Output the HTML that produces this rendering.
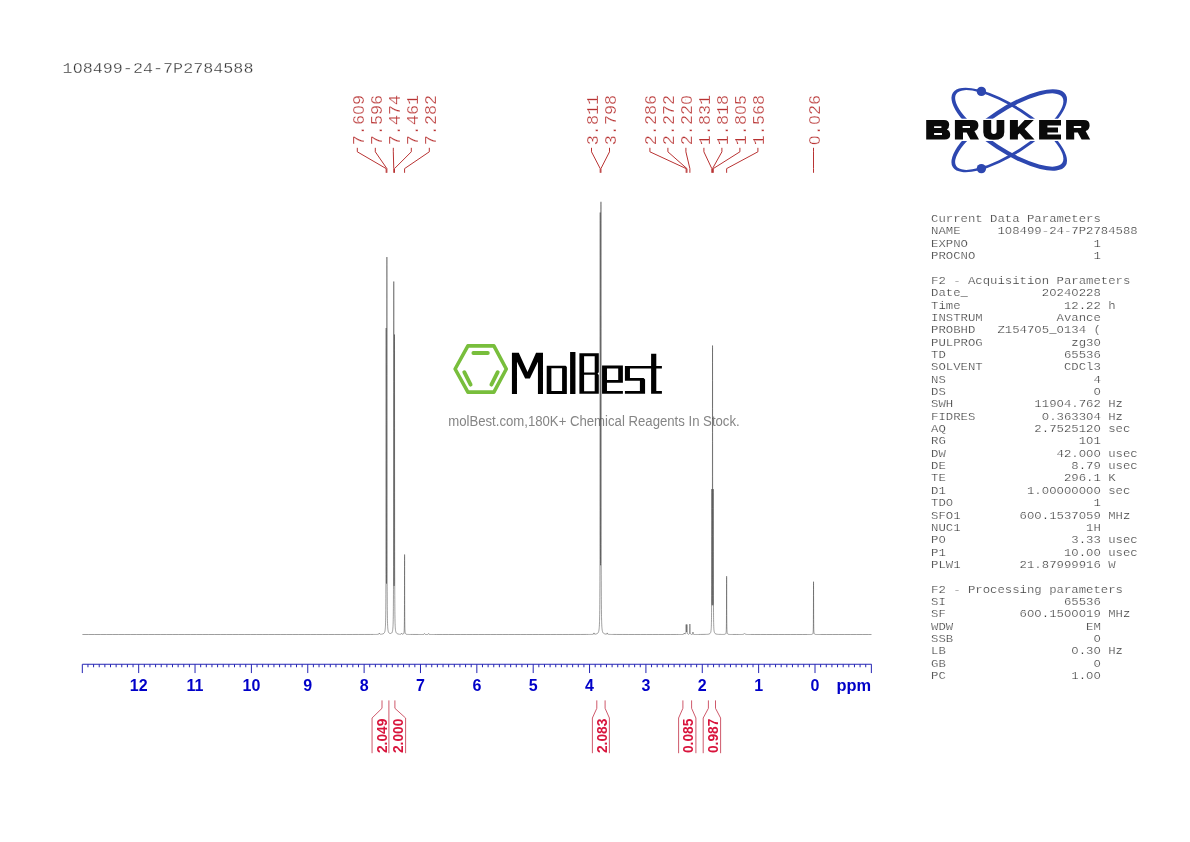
<!DOCTYPE html>
<html><head><meta charset="utf-8"><title>NMR</title>
<style>
html,body{margin:0;padding:0;background:#fff;}
body{width:1190px;height:842px;overflow:hidden;position:relative;font-family:"Liberation Sans",sans-serif;}
svg{position:absolute;left:0;top:0;will-change:transform;}
</style></head><body>
<svg width="1190" height="842" viewBox="0 0 1190 842">
<text transform="translate(62.6 72.6) scale(1 0.88)" font-family="Liberation Mono, monospace" font-size="16.75" fill="#333" stroke="#fff" stroke-width="0.32">108499-24-7P2784588</text>
<g font-family="Liberation Mono, monospace" font-size="12.32" fill="#3c3c3c" stroke="#fff" stroke-width="0.25" style="white-space:pre">
<text xml:space="preserve" transform="translate(931 222.10) scale(1 0.87)">Current Data Parameters</text>
<text xml:space="preserve" transform="translate(931 234.45) scale(1 0.87)">NAME     108499-24-7P2784588</text>
<text xml:space="preserve" transform="translate(931 246.80) scale(1 0.87)">EXPNO                 1</text>
<text xml:space="preserve" transform="translate(931 259.15) scale(1 0.87)">PROCNO                1</text>
<text xml:space="preserve" transform="translate(931 283.85) scale(1 0.87)">F2 - Acquisition Parameters</text>
<text xml:space="preserve" transform="translate(931 296.20) scale(1 0.87)">Date_          20240228</text>
<text xml:space="preserve" transform="translate(931 308.55) scale(1 0.87)">Time              12.22 h</text>
<text xml:space="preserve" transform="translate(931 320.90) scale(1 0.87)">INSTRUM          Avance</text>
<text xml:space="preserve" transform="translate(931 333.25) scale(1 0.87)">PROBHD   Z154705_0134 (</text>
<text xml:space="preserve" transform="translate(931 345.60) scale(1 0.87)">PULPROG            zg30</text>
<text xml:space="preserve" transform="translate(931 357.95) scale(1 0.87)">TD                65536</text>
<text xml:space="preserve" transform="translate(931 370.30) scale(1 0.87)">SOLVENT           CDCl3</text>
<text xml:space="preserve" transform="translate(931 382.65) scale(1 0.87)">NS                    4</text>
<text xml:space="preserve" transform="translate(931 395.00) scale(1 0.87)">DS                    0</text>
<text xml:space="preserve" transform="translate(931 407.35) scale(1 0.87)">SWH           11904.762 Hz</text>
<text xml:space="preserve" transform="translate(931 419.70) scale(1 0.87)">FIDRES         0.363304 Hz</text>
<text xml:space="preserve" transform="translate(931 432.05) scale(1 0.87)">AQ            2.7525120 sec</text>
<text xml:space="preserve" transform="translate(931 444.40) scale(1 0.87)">RG                  101</text>
<text xml:space="preserve" transform="translate(931 456.75) scale(1 0.87)">DW               42.000 usec</text>
<text xml:space="preserve" transform="translate(931 469.10) scale(1 0.87)">DE                 8.79 usec</text>
<text xml:space="preserve" transform="translate(931 481.45) scale(1 0.87)">TE                296.1 K</text>
<text xml:space="preserve" transform="translate(931 493.80) scale(1 0.87)">D1           1.00000000 sec</text>
<text xml:space="preserve" transform="translate(931 506.15) scale(1 0.87)">TD0                   1</text>
<text xml:space="preserve" transform="translate(931 518.50) scale(1 0.87)">SFO1        600.1537059 MHz</text>
<text xml:space="preserve" transform="translate(931 530.85) scale(1 0.87)">NUC1                 1H</text>
<text xml:space="preserve" transform="translate(931 543.20) scale(1 0.87)">P0                 3.33 usec</text>
<text xml:space="preserve" transform="translate(931 555.55) scale(1 0.87)">P1                10.00 usec</text>
<text xml:space="preserve" transform="translate(931 567.90) scale(1 0.87)">PLW1        21.87999916 W</text>
<text xml:space="preserve" transform="translate(931 592.60) scale(1 0.87)">F2 - Processing parameters</text>
<text xml:space="preserve" transform="translate(931 604.95) scale(1 0.87)">SI                65536</text>
<text xml:space="preserve" transform="translate(931 617.30) scale(1 0.87)">SF          600.1500019 MHz</text>
<text xml:space="preserve" transform="translate(931 629.65) scale(1 0.87)">WDW                  EM</text>
<text xml:space="preserve" transform="translate(931 642.00) scale(1 0.87)">SSB                   0</text>
<text xml:space="preserve" transform="translate(931 654.35) scale(1 0.87)">LB                 0.30 Hz</text>
<text xml:space="preserve" transform="translate(931 666.70) scale(1 0.87)">GB                    0</text>
<text xml:space="preserve" transform="translate(931 679.05) scale(1 0.87)">PC                 1.00</text>
</g>
<g fill="none" stroke="#78be3c" stroke-width="3.6" stroke-linejoin="round" stroke-linecap="round"><polygon points="455.1,369 467.9,345.9 493.9,345.9 506.3,369 493.9,392.1 467.9,392.1"/><path stroke-width="3.9" d="M473.4 353H487.8M464.3 372.2L470.6 384.6M497.7 372.2L491.4 384.6"/></g>
<path fill="#000" fill-rule="evenodd" d="M511.92 393.94V352.73H518.78L527.52 371.89L536.06 352.73H542.98V393.94H537.94V361.81L529.87 378.61H525.17L516.97 361.81V393.94zM546.7 365.84H565.6L566.85 367.1V393.94H546.7zM551.4 368.3V391.05H562.1V368.3zM570.10 352.10H575.45V393.94H570.10zM579.4 353.2H598.8V372.2L597.6 373.6L598.8 375V393.8H579.4zM584.1 356.2V372.4H594.7V356.2zM584.1 374.8V391.2H594.7V374.8zM602.06 365.5H622.9V382.65H606.97V391.05H622.9V393.74H602.06zM606.97 368.4V379.96H618.2V368.4zM624.9 365.97H651.1V368.5H629.96V377.94H643.6L645.08 379.5V393.74H624.9V391.05H639.9V380.63H624.9zM651.1 353.74H656.3V365.97H661.9V368.5H656.3V391.05H661.9V393.74H651.1z"/>
<text x="448.2" y="426.2" font-family="Liberation Sans, sans-serif" font-size="14" fill="#858585" textLength="291.5" lengthAdjust="spacingAndGlyphs">molBest.com,180K+ Chemical Reagents In Stock.</text>
<polyline fill="none" stroke="#3c3c3c" stroke-width="0.5" stroke-linejoin="bevel" points="82.40,634.50 88.40,634.50 94.40,634.50 100.40,634.50 106.40,634.50 112.40,634.50 118.40,634.50 124.40,634.50 130.40,634.50 136.40,634.50 142.40,634.50 148.40,634.50 154.40,634.50 160.40,634.50 166.40,634.50 172.40,634.50 178.40,634.50 184.40,634.50 190.40,634.50 196.40,634.50 202.40,634.50 208.40,634.50 214.40,634.50 220.40,634.50 226.40,634.50 232.40,634.50 238.40,634.50 244.40,634.50 250.40,634.50 256.40,634.50 262.40,634.50 268.40,634.50 274.40,634.50 280.40,634.50 286.40,634.50 292.40,634.50 298.40,634.50 304.40,634.50 310.40,634.50 316.40,634.50 322.40,634.50 328.40,634.50 334.40,634.49 340.40,634.49 346.40,634.49 352.40,634.49 358.40,634.48 364.40,634.48 370.40,634.46 373.34,634.44 373.56,634.43 373.77,634.43 373.98,634.43 374.18,634.43 374.38,634.43 374.58,634.42 374.77,634.42 374.96,634.42 375.14,634.41 375.32,634.41 375.49,634.41 375.67,634.41 375.83,634.40 375.99,634.40 376.15,634.39 376.31,634.39 376.40,634.39 376.45,634.39 376.60,634.38 376.74,634.38 376.88,634.37 377.01,634.37 377.14,634.36 377.27,634.36 377.39,634.35 377.50,634.34 377.62,634.34 377.73,634.33 377.83,634.32 377.93,634.31 378.03,634.29 378.12,634.28 378.21,634.26 378.30,634.25 378.38,634.23 378.46,634.20 378.54,634.17 378.61,634.14 378.68,634.10 378.74,634.06 378.80,634.01 378.86,633.95 378.91,633.89 378.96,633.81 379.01,633.74 379.05,633.66 379.09,633.58 379.13,633.50 379.16,633.43 379.19,633.37 379.22,633.32 379.25,633.28 379.27,633.25 379.28,633.23 379.30,633.21 379.31,633.21 379.32,633.20 379.33,633.20 379.33,633.20 379.34,633.20 379.34,633.20 379.34,633.20 379.34,633.20 379.35,633.20 379.35,633.20 379.36,633.20 379.38,633.21 379.39,633.22 379.41,633.24 379.43,633.27 379.45,633.31 379.48,633.36 379.51,633.41 379.55,633.48 379.58,633.56 379.62,633.63 379.67,633.71 379.71,633.78 379.76,633.85 379.81,633.91 379.87,633.96 379.93,634.01 380.00,634.04 380.06,634.07 380.14,634.10 380.16,634.11 380.21,634.12 380.29,634.14 380.37,634.15 380.38,634.15 380.46,634.16 380.55,634.17 380.59,634.17 380.64,634.17 380.74,634.17 380.80,634.17 380.84,634.17 380.89,634.17 380.95,634.17 381.00,634.17 381.06,634.17 381.11,634.16 381.17,634.16 381.20,634.16 381.29,634.15 381.32,634.15 381.40,634.14 381.41,634.14 381.53,634.13 381.53,634.13 381.59,634.12 381.66,634.11 381.73,634.11 381.78,634.10 381.80,634.10 381.93,634.08 381.94,634.08 381.96,634.08 382.07,634.06 382.13,634.05 382.14,634.05 382.22,634.03 382.31,634.01 382.32,634.01 382.37,634.00 382.40,634.00 382.48,633.98 382.51,633.97 382.52,633.97 382.65,633.94 382.68,633.93 382.69,633.92 382.81,633.89 382.84,633.88 382.87,633.87 382.97,633.84 383.01,633.83 383.05,633.81 383.12,633.78 383.18,633.76 383.22,633.74 383.27,633.72 383.36,633.68 383.38,633.67 383.42,633.65 383.53,633.59 383.55,633.58 383.56,633.57 383.70,633.48 383.70,633.48 383.72,633.47 383.83,633.38 383.86,633.36 383.90,633.32 383.96,633.26 384.01,633.22 384.08,633.14 384.10,633.12 384.15,633.06 384.21,632.99 384.29,632.87 384.29,632.87 384.32,632.82 384.43,632.64 384.44,632.63 384.49,632.52 384.55,632.41 384.56,632.37 384.65,632.15 384.69,632.04 384.70,632.02 384.75,631.85 384.82,631.63 384.85,631.51 384.91,631.28 384.94,631.13 384.94,631.10 385.04,630.62 385.06,630.50 385.12,630.08 385.12,630.06 385.17,629.68 385.20,629.38 385.28,628.61 385.28,628.58 385.34,627.89 385.36,627.59 385.38,627.18 385.43,626.39 385.49,625.18 385.50,624.91 385.56,623.09 385.58,622.29 385.62,620.77 385.68,617.97 385.68,617.85 385.73,614.15 385.77,610.84 385.78,609.33 385.83,602.96 385.85,598.52 385.87,594.47 385.91,583.36 385.94,574.79 385.95,569.00 385.98,549.52 386.01,525.15 386.01,523.22 386.04,495.15 386.06,460.59 386.08,424.42 386.09,415.23 386.10,389.21 386.12,362.93 386.13,345.46 386.14,334.89 386.15,329.78 386.15,328.46 386.16,328.03 386.16,328.00 386.16,328.22 386.16,328.64 386.17,329.66 386.17,333.85 386.18,343.80 386.19,362.18 386.21,387.94 386.23,420.57 386.23,422.35 386.25,455.95 386.27,489.60 386.29,512.81 386.30,518.48 386.33,542.07 386.35,554.62 386.36,559.06 386.40,571.35 386.41,573.76 386.44,579.18 386.46,581.88 386.48,583.13 386.51,583.65 386.53,583.21 386.56,580.94 386.58,578.55 386.61,574.29 386.63,566.58 386.64,563.31 386.68,547.14 386.69,541.42 386.71,525.39 386.75,495.61 386.75,487.25 386.77,459.39 386.80,417.33 386.82,375.39 386.82,373.17 386.84,332.44 386.85,298.24 386.86,277.16 386.87,264.60 386.88,259.25 386.88,257.59 386.89,257.34 386.89,257.00 386.89,257.02 386.89,257.48 386.90,259.59 386.90,265.22 386.92,278.16 386.93,299.69 386.94,334.45 386.96,364.39 386.96,375.78 386.98,420.63 387.01,463.50 387.03,498.31 387.03,500.70 387.06,530.90 387.10,555.00 387.11,562.16 387.13,573.14 387.17,586.69 387.19,591.39 387.22,596.84 387.26,604.62 387.28,606.60 387.31,610.50 387.37,614.98 387.37,615.12 387.43,618.55 387.46,620.37 387.49,621.28 387.55,623.46 387.56,623.78 387.62,625.21 387.66,626.14 387.69,626.63 387.76,627.77 387.76,627.78 387.77,627.81 387.84,628.71 387.88,629.05 387.93,629.48 387.98,629.93 387.99,629.98 388.01,630.12 388.10,630.66 388.11,630.69 388.19,631.11 388.20,631.12 388.23,631.25 388.29,631.50 388.35,631.70 388.39,631.82 388.40,631.84 388.41,631.85 388.48,632.05 388.50,632.09 388.50,632.10 388.61,632.33 388.61,632.33 388.62,632.35 388.72,632.52 388.72,632.53 388.75,632.58 388.81,632.67 388.84,632.71 388.89,632.78 388.93,632.82 388.96,632.85 389.01,632.90 389.04,632.94 389.09,632.98 389.14,633.03 389.19,633.07 389.20,633.07 389.21,633.09 389.34,633.17 389.35,633.18 389.39,633.20 389.49,633.25 389.50,633.26 389.54,633.28 389.57,633.29 389.63,633.32 389.66,633.33 389.74,633.36 389.75,633.36 389.77,633.37 389.83,633.38 389.92,633.40 389.92,633.41 389.93,633.41 390.00,633.42 390.08,633.43 390.09,633.43 390.12,633.44 390.17,633.44 390.23,633.45 390.26,633.45 390.30,633.45 390.35,633.45 390.40,633.45 390.42,633.45 390.48,633.45 390.54,633.44 390.56,633.44 390.58,633.44 390.65,633.43 390.72,633.42 390.73,633.42 390.73,633.42 390.83,633.40 390.88,633.38 390.91,633.38 390.92,633.37 390.99,633.35 391.03,633.34 391.09,633.32 391.11,633.31 391.15,633.29 391.17,633.28 391.27,633.23 391.31,633.21 391.31,633.21 391.44,633.13 391.46,633.12 391.46,633.11 391.52,633.07 391.57,633.03 391.62,632.99 391.65,632.96 391.69,632.91 391.73,632.88 391.76,632.84 391.81,632.77 391.84,632.73 391.90,632.65 391.93,632.61 391.94,632.60 392.04,632.43 392.04,632.42 392.05,632.42 392.15,632.20 392.16,632.19 392.17,632.16 392.25,631.97 392.26,631.94 392.30,631.82 392.36,631.63 392.43,631.40 392.46,631.28 392.46,631.27 392.55,630.88 392.55,630.85 392.64,630.35 392.67,630.20 392.67,630.16 392.73,629.74 392.78,629.33 392.81,629.01 392.89,628.17 392.89,628.15 392.89,628.13 392.97,627.06 392.99,626.60 393.04,625.73 393.10,624.38 393.11,624.11 393.17,622.04 393.19,621.18 393.23,619.48 393.29,616.26 393.29,616.19 393.34,611.92 393.38,608.27 393.39,606.42 393.44,599.12 393.46,594.24 393.48,589.62 393.52,576.92 393.55,566.63 393.56,559.92 393.59,538.13 393.62,509.06 393.62,506.81 393.65,474.21 393.67,434.07 393.69,392.10 393.70,381.45 393.71,353.47 393.73,321.03 393.74,301.00 393.75,289.00 393.76,283.81 393.76,281.91 393.76,281.51 393.77,281.50 393.77,281.86 393.77,282.10 393.77,283.70 393.78,288.78 393.79,300.60 393.80,320.37 393.82,352.36 393.84,390.40 393.84,392.47 393.86,431.59 393.88,470.78 393.90,496.72 393.91,504.50 393.94,531.48 393.96,547.12 393.97,552.44 394.01,567.43 394.02,570.46 394.05,577.55 394.07,581.45 394.09,583.60 394.12,585.58 394.14,585.90 394.17,585.26 394.19,583.88 394.21,581.13 394.24,575.92 394.25,573.30 394.29,561.13 394.30,556.75 394.32,544.37 394.35,522.04 394.36,515.57 394.38,492.74 394.40,468.65 394.41,459.67 394.43,428.42 394.43,424.93 394.44,392.94 394.46,367.71 394.47,349.77 394.48,340.10 394.49,336.05 394.49,335.08 394.50,334.69 394.50,334.51 394.50,334.50 394.50,334.54 394.50,334.79 394.51,336.32 394.51,341.40 394.52,350.61 394.54,369.02 394.55,394.80 394.56,420.28 394.57,427.49 394.59,463.09 394.62,498.45 394.64,525.88 394.64,527.76 394.67,551.57 394.70,570.14 394.72,576.27 394.74,584.64 394.78,595.49 394.80,599.44 394.83,603.78 394.87,609.88 394.89,611.47 394.92,614.62 394.98,618.31 394.98,618.37 395.03,621.16 395.07,622.64 395.09,623.42 395.16,625.20 395.17,625.46 395.23,626.64 395.27,627.39 395.30,627.80 395.37,628.75 395.38,628.80 395.45,629.54 395.49,629.83 395.53,630.20 395.60,630.62 395.60,630.62 395.62,630.75 395.71,631.21 395.72,631.24 395.80,631.60 395.82,631.65 395.84,631.72 395.90,631.94 395.96,632.11 396.00,632.22 396.03,632.29 396.09,632.43 396.11,632.47 396.22,632.68 396.22,632.70 396.24,632.72 396.33,632.87 396.36,632.92 396.44,633.03 396.45,633.03 396.50,633.10 396.57,633.17 396.64,633.25 396.65,633.26 396.69,633.30 396.80,633.39 396.82,633.41 396.84,633.42 396.95,633.50 396.96,633.51 397.03,633.56 397.09,633.59 397.11,633.60 397.22,633.66 397.24,633.67 397.27,633.69 397.38,633.74 397.40,633.75 397.44,633.76 397.53,633.80 397.58,633.82 397.61,633.83 397.68,633.85 397.76,633.88 397.78,633.88 397.84,633.90 397.93,633.93 397.96,633.93 398.00,633.95 398.09,633.97 398.14,633.98 398.17,633.98 398.25,634.00 398.33,634.02 398.34,634.02 398.41,634.03 398.52,634.05 398.52,634.05 398.57,634.06 398.59,634.06 398.69,634.08 398.72,634.08 398.72,634.08 398.80,634.09 398.86,634.10 398.88,634.10 398.92,634.11 399.00,634.12 399.02,634.12 399.06,634.13 399.12,634.13 399.14,634.13 399.23,634.14 399.26,634.15 399.27,634.15 399.33,634.15 399.40,634.16 399.43,634.16 399.45,634.16 399.53,634.17 399.55,634.17 399.63,634.17 399.65,634.17 399.65,634.18 399.76,634.18 399.77,634.18 399.83,634.18 399.86,634.18 399.88,634.19 399.99,634.19 400.02,634.19 400.07,634.19 400.09,634.19 400.20,634.19 400.21,634.19 400.28,634.19 400.29,634.19 400.39,634.19 400.39,634.19 400.40,634.19 400.48,634.18 400.50,634.18 400.56,634.18 400.57,634.18 400.65,634.17 400.73,634.15 400.74,634.15 400.80,634.14 400.87,634.12 400.91,634.11 400.94,634.10 401.00,634.07 401.06,634.03 401.08,634.02 401.12,633.99 401.18,633.94 401.23,633.89 401.24,633.87 401.27,633.83 401.31,633.76 401.36,633.69 401.39,633.61 401.40,633.60 401.43,633.55 401.46,633.48 401.48,633.43 401.51,633.38 401.53,633.35 401.55,633.33 401.55,633.32 401.56,633.32 401.57,633.31 401.58,633.30 401.59,633.30 401.60,633.30 401.60,633.30 401.60,633.30 401.60,633.30 401.61,633.30 401.62,633.30 401.62,633.31 401.64,633.31 401.65,633.33 401.67,633.35 401.69,633.38 401.70,633.40 401.72,633.43 401.74,633.48 401.77,633.54 401.81,633.61 401.84,633.68 401.85,633.69 401.88,633.75 401.93,633.82 401.97,633.88 401.99,633.90 402.02,633.93 402.08,633.98 402.13,634.02 402.13,634.02 402.19,634.05 402.26,634.08 402.26,634.08 402.33,634.10 402.39,634.11 402.40,634.11 402.47,634.12 402.51,634.13 402.55,634.13 402.63,634.13 402.64,634.13 402.72,634.13 402.75,634.12 402.81,634.12 402.87,634.11 402.90,634.10 402.98,634.09 403.00,634.08 403.08,634.06 403.10,634.05 403.18,634.03 403.21,634.01 403.28,633.98 403.32,633.96 403.38,633.93 403.43,633.88 403.46,633.86 403.55,633.77 403.55,633.77 403.63,633.67 403.67,633.61 403.71,633.54 403.79,633.38 403.80,633.36 403.86,633.18 403.93,632.93 403.93,632.93 403.99,632.60 404.05,632.19 404.06,632.14 404.11,631.66 404.16,630.95 404.20,630.36 404.21,630.03 404.26,628.78 404.30,627.13 404.34,625.20 404.34,624.86 404.38,621.74 404.41,617.45 404.44,611.84 404.47,604.53 404.48,600.37 404.49,595.53 404.51,585.40 404.53,575.35 404.55,566.31 404.56,560.43 404.57,556.80 404.58,555.20 404.58,554.62 404.59,554.50 404.59,554.50 404.59,554.62 404.60,555.21 404.60,556.81 404.61,560.45 404.62,566.33 404.63,570.78 404.64,575.38 404.66,585.43 404.68,595.56 404.70,604.55 404.73,611.85 404.76,617.47 404.79,620.90 404.79,621.76 404.83,624.87 404.87,627.14 404.91,628.80 404.94,629.65 404.96,630.05 405.01,630.97 405.06,631.68 405.11,632.08 405.12,632.22 405.18,632.63 405.25,632.95 405.27,633.06 405.31,633.21 405.39,633.42 405.44,633.54 405.46,633.58 405.54,633.71 405.62,633.82 405.62,633.82 405.71,633.91 405.80,633.98 405.80,633.98 405.89,634.05 405.98,634.09 405.99,634.10 406.09,634.14 406.17,634.17 406.20,634.18 406.31,634.21 406.36,634.22 406.40,634.23 406.42,634.24 406.54,634.26 406.55,634.26 406.66,634.28 406.75,634.30 406.78,634.30 406.91,634.32 406.96,634.32 407.05,634.33 407.17,634.34 407.18,634.34 407.32,634.35 407.38,634.36 407.47,634.36 407.60,634.37 407.62,634.37 407.77,634.38 407.93,634.39 408.09,634.39 408.26,634.40 408.43,634.40 408.60,634.41 408.78,634.41 408.97,634.42 409.15,634.42 409.35,634.42 409.54,634.43 409.74,634.43 409.95,634.43 410.15,634.44 410.37,634.44 410.59,634.44 412.40,634.46 418.40,634.47 418.43,634.47 418.64,634.47 418.86,634.47 419.06,634.47 419.27,634.47 419.47,634.47 419.67,634.47 419.86,634.47 420.05,634.47 420.23,634.47 420.41,634.47 420.58,634.47 420.75,634.47 420.92,634.47 421.08,634.47 421.24,634.47 421.39,634.47 421.54,634.47 421.69,634.47 421.83,634.47 421.97,634.47 422.10,634.46 422.23,634.46 422.35,634.46 422.48,634.46 422.59,634.45 422.65,634.45 422.70,634.45 422.81,634.45 422.87,634.45 422.92,634.44 423.02,634.44 423.08,634.43 423.12,634.43 423.21,634.42 423.29,634.42 423.30,634.42 423.39,634.40 423.47,634.39 423.50,634.39 423.55,634.38 423.63,634.36 423.70,634.34 423.70,634.34 423.76,634.31 423.83,634.28 423.89,634.25 423.89,634.24 423.95,634.20 424.00,634.15 424.05,634.10 424.08,634.05 424.10,634.03 424.14,633.96 424.18,633.89 424.22,633.82 424.25,633.75 424.27,633.70 424.28,633.68 424.31,633.63 424.33,633.58 424.35,633.55 424.37,633.53 424.39,633.52 424.40,633.51 424.41,633.50 424.42,633.50 424.42,633.50 424.42,633.50 424.43,633.50 424.43,633.50 424.43,633.50 424.43,633.50 424.44,633.50 424.45,633.51 424.46,633.51 424.46,633.52 424.48,633.53 424.50,633.55 424.52,633.59 424.54,633.63 424.57,633.68 424.60,633.75 424.63,633.82 424.63,633.82 424.67,633.89 424.71,633.96 424.75,634.03 424.80,634.10 424.81,634.11 424.85,634.15 424.90,634.20 424.96,634.24 424.98,634.26 425.02,634.28 425.08,634.31 425.15,634.33 425.15,634.34 425.22,634.36 425.30,634.37 425.31,634.38 425.38,634.39 425.46,634.40 425.47,634.40 425.55,634.41 425.62,634.42 425.64,634.42 425.73,634.43 425.77,634.43 425.83,634.43 425.92,634.44 425.93,634.44 426.04,634.44 426.06,634.44 426.14,634.44 426.19,634.44 426.26,634.45 426.33,634.45 426.38,634.45 426.46,634.45 426.50,634.45 426.58,634.45 426.62,634.45 426.70,634.45 426.75,634.45 426.82,634.45 426.88,634.45 426.93,634.44 427.02,634.44 427.04,634.44 427.15,634.44 427.16,634.44 427.25,634.43 427.31,634.43 427.35,634.43 427.44,634.42 427.46,634.42 427.53,634.41 427.61,634.40 427.62,634.40 427.70,634.39 427.77,634.38 427.78,634.38 427.85,634.36 427.92,634.34 427.93,634.34 427.99,634.31 428.06,634.28 428.10,634.26 428.12,634.25 428.17,634.20 428.23,634.15 428.27,634.11 428.28,634.10 428.32,634.03 428.37,633.96 428.41,633.89 428.44,633.82 428.44,633.82 428.48,633.75 428.51,633.68 428.54,633.63 428.56,633.58 428.58,633.55 428.60,633.53 428.61,633.52 428.62,633.51 428.63,633.51 428.64,633.50 428.64,633.50 428.65,633.50 428.65,633.50 428.65,633.50 428.65,633.50 428.66,633.50 428.66,633.50 428.67,633.50 428.68,633.51 428.69,633.52 428.70,633.53 428.72,633.55 428.75,633.59 428.77,633.63 428.80,633.68 428.81,633.70 428.83,633.75 428.86,633.82 428.90,633.89 428.94,633.97 428.98,634.04 428.99,634.05 429.03,634.10 429.08,634.16 429.13,634.21 429.18,634.25 429.19,634.25 429.25,634.29 429.31,634.32 429.38,634.34 429.45,634.36 429.53,634.38 429.58,634.39 429.61,634.40 429.69,634.41 429.77,634.42 429.79,634.42 429.86,634.43 429.96,634.44 429.99,634.44 430.06,634.44 430.16,634.45 430.21,634.45 430.26,634.45 430.37,634.46 430.40,634.46 430.43,634.46 430.49,634.46 430.60,634.46 430.72,634.47 430.85,634.47 430.98,634.47 431.11,634.47 431.25,634.47 431.39,634.48 431.54,634.48 431.69,634.48 431.84,634.48 432.00,634.48 432.16,634.48 432.32,634.48 432.50,634.48 432.67,634.48 432.85,634.48 433.03,634.48 433.22,634.49 433.41,634.49 433.61,634.49 433.81,634.49 434.01,634.49 434.22,634.49 434.43,634.49 434.65,634.49 436.40,634.49 442.40,634.49 448.40,634.49 454.40,634.50 460.40,634.50 466.40,634.50 472.40,634.50 478.40,634.50 484.40,634.50 490.40,634.50 496.40,634.50 502.40,634.50 508.40,634.50 514.40,634.50 520.40,634.50 526.40,634.50 532.40,634.50 538.40,634.50 544.40,634.50 550.40,634.50 556.40,634.49 562.40,634.49 568.40,634.49 574.40,634.48 580.40,634.47 586.40,634.45 587.96,634.43 588.17,634.43 588.39,634.43 588.60,634.43 588.80,634.42 589.00,634.42 589.20,634.42 589.39,634.42 589.58,634.41 589.76,634.41 589.94,634.41 590.11,634.40 590.28,634.40 590.45,634.40 590.61,634.39 590.77,634.39 590.92,634.38 591.07,634.38 591.22,634.38 591.36,634.37 591.50,634.37 591.63,634.36 591.76,634.36 591.88,634.35 592.01,634.35 592.12,634.34 592.24,634.33 592.35,634.33 592.40,634.32 592.45,634.32 592.55,634.31 592.65,634.31 592.74,634.30 592.83,634.29 592.92,634.28 593.00,634.26 593.08,634.25 593.16,634.23 593.23,634.21 593.30,634.19 593.36,634.17 593.42,634.13 593.48,634.09 593.53,634.05 593.58,633.99 593.63,633.92 593.67,633.83 593.71,633.73 593.75,633.62 593.78,633.50 593.81,633.38 593.84,633.25 593.86,633.15 593.88,633.06 593.90,632.99 593.92,632.95 593.93,632.92 593.94,632.91 593.95,632.90 593.95,632.90 593.96,632.90 593.96,632.90 593.96,632.90 593.96,632.90 593.96,632.90 593.97,632.91 593.98,632.92 593.99,632.94 594.01,632.99 594.03,633.05 594.05,633.13 594.07,633.24 594.10,633.36 594.13,633.48 594.16,633.59 594.20,633.70 594.21,633.73 594.24,633.79 594.28,633.87 594.33,633.93 594.38,633.99 594.43,634.02 594.43,634.02 594.49,634.06 594.55,634.08 594.62,634.10 594.64,634.10 594.68,634.11 594.75,634.12 594.83,634.12 594.85,634.12 594.91,634.12 594.95,634.12 594.99,634.12 595.06,634.12 595.08,634.12 595.16,634.11 595.17,634.11 595.26,634.11 595.26,634.11 595.36,634.10 595.38,634.09 595.45,634.08 595.46,634.08 595.57,634.07 595.59,634.07 595.64,634.06 595.68,634.05 595.79,634.03 595.79,634.03 595.83,634.03 595.91,634.01 595.99,634.00 596.02,633.99 596.03,633.99 596.15,633.96 596.19,633.95 596.20,633.95 596.28,633.93 596.37,633.91 596.38,633.90 596.41,633.89 596.54,633.86 596.55,633.85 596.57,633.85 596.69,633.80 596.71,633.80 596.75,633.79 596.84,633.75 596.87,633.74 596.93,633.71 596.99,633.69 597.03,633.67 597.10,633.63 597.14,633.61 597.18,633.59 597.27,633.54 597.30,633.52 597.33,633.50 597.44,633.43 597.46,633.41 597.47,633.40 597.60,633.31 597.62,633.29 597.63,633.28 597.75,633.17 597.76,633.16 597.80,633.12 597.89,633.03 597.91,633.00 597.97,632.92 598.01,632.87 598.06,632.80 598.14,632.68 598.15,632.67 598.21,632.57 598.26,632.48 598.34,632.33 598.35,632.30 598.38,632.24 598.40,632.19 598.49,631.98 598.49,631.96 598.52,631.88 598.60,631.65 598.62,631.59 598.71,631.28 598.72,631.25 598.75,631.12 598.81,630.85 598.87,630.54 598.91,630.36 598.91,630.33 598.99,629.82 599.00,629.77 599.09,629.08 599.11,628.90 599.11,628.89 599.18,628.26 599.23,627.71 599.26,627.28 599.32,626.45 599.33,626.15 599.34,626.09 599.41,624.65 599.44,624.03 599.48,622.90 599.52,621.65 599.54,621.11 599.55,620.72 599.62,618.02 599.64,616.85 599.68,614.60 599.73,610.37 599.73,610.28 599.74,609.92 599.79,604.68 599.82,599.91 599.84,597.50 599.88,588.28 599.91,581.73 599.93,575.78 599.96,565.02 599.97,559.51 599.99,546.42 600.00,537.93 600.04,510.56 600.07,475.92 600.07,473.20 600.10,432.19 600.12,384.37 600.14,335.50 600.14,325.74 600.16,291.54 600.17,257.46 600.19,233.42 600.20,220.44 600.20,214.89 600.21,212.89 600.21,212.56 600.21,212.50 600.21,212.51 600.22,212.72 600.22,213.21 600.22,214.45 600.23,220.60 600.24,232.05 600.25,255.39 600.26,288.68 600.28,331.71 600.28,336.46 600.30,379.47 600.33,427.71 600.35,458.72 600.36,468.09 600.39,500.82 600.41,519.94 600.42,525.83 600.46,544.35 600.47,548.41 600.50,556.64 600.52,561.18 600.54,563.63 600.57,565.28 600.59,565.23 600.62,563.25 600.64,560.75 600.66,555.77 600.69,547.16 600.70,542.93 600.74,524.37 600.75,517.63 600.77,497.88 600.80,464.11 600.81,454.45 600.83,422.49 600.85,375.01 600.87,328.57 600.87,326.13 600.89,279.50 600.91,245.38 600.92,223.10 600.93,209.88 600.94,204.23 600.94,202.46 600.94,202.19 600.94,201.80 600.95,201.81 600.95,202.26 600.95,204.38 600.96,210.18 600.97,223.63 600.98,248.42 601.00,283.46 601.01,316.05 601.02,328.58 601.04,378.66 601.06,427.63 601.09,468.19 601.09,471.00 601.12,507.84 601.15,535.84 601.16,544.52 601.19,557.92 601.20,563.55 601.23,574.56 601.25,580.65 601.27,587.10 601.32,596.78 601.33,599.25 601.37,604.12 601.42,609.38 601.42,609.84 601.42,609.93 601.48,614.25 601.52,616.55 601.54,617.75 601.61,620.50 601.62,620.90 601.63,621.45 601.67,622.72 601.72,623.88 601.74,624.51 601.82,625.97 601.82,626.02 601.84,626.34 601.90,627.18 601.93,627.62 601.98,628.18 602.04,628.82 602.05,628.83 602.07,629.02 602.16,629.72 602.16,629.76 602.25,630.29 602.25,630.32 602.28,630.49 602.35,630.82 602.41,631.09 602.44,631.22 602.45,631.25 602.54,631.57 602.55,631.62 602.63,631.86 602.66,631.94 602.67,631.96 602.78,632.22 602.81,632.28 602.82,632.31 602.89,632.46 602.95,632.56 603.00,632.65 603.02,632.67 603.10,632.79 603.14,632.85 603.18,632.91 603.25,632.99 603.27,633.02 603.36,633.11 603.40,633.15 603.40,633.16 603.53,633.27 603.54,633.29 603.56,633.30 603.68,633.40 603.70,633.41 603.72,633.42 603.83,633.50 603.86,633.51 603.88,633.53 603.98,633.58 604.01,633.60 604.05,633.63 604.13,633.66 604.17,633.68 604.23,633.71 604.29,633.73 604.32,633.75 604.40,633.78 604.41,633.78 604.45,633.80 604.46,633.80 604.59,633.85 604.60,633.85 604.62,633.85 604.74,633.89 604.78,633.90 604.79,633.90 604.88,633.93 604.96,633.95 604.97,633.95 605.00,633.96 605.13,633.99 605.14,633.99 605.17,633.99 605.25,634.01 605.32,634.03 605.37,634.03 605.37,634.03 605.48,634.05 605.51,634.06 605.57,634.07 605.59,634.07 605.70,634.08 605.70,634.08 605.78,634.09 605.80,634.09 605.89,634.10 605.90,634.10 605.99,634.11 605.99,634.11 606.08,634.12 606.10,634.12 606.16,634.12 606.21,634.12 606.25,634.12 606.30,634.12 606.33,634.12 606.40,634.12 606.47,634.11 606.51,634.10 606.54,634.10 606.61,634.08 606.67,634.05 606.72,634.02 606.73,634.02 606.78,633.98 606.83,633.93 606.87,633.87 606.92,633.79 606.95,633.73 606.96,633.70 606.99,633.59 607.03,633.47 607.06,633.35 607.08,633.24 607.11,633.13 607.13,633.05 607.15,632.98 607.16,632.94 607.17,632.92 607.18,632.91 607.19,632.90 607.20,632.90 607.20,632.90 607.20,632.90 607.20,632.90 607.21,632.90 607.22,632.91 607.23,632.92 607.24,632.95 607.25,632.99 607.27,633.06 607.29,633.15 607.32,633.25 607.34,633.37 607.38,633.50 607.41,633.62 607.45,633.73 607.49,633.83 607.53,633.92 607.58,633.99 607.62,634.04 607.68,634.09 607.74,634.13 607.80,634.16 607.86,634.19 607.93,634.21 608.00,634.23 608.08,634.25 608.15,634.26 608.24,634.28 608.32,634.29 608.41,634.30 608.51,634.31 608.60,634.31 608.71,634.32 608.81,634.33 608.92,634.33 609.03,634.34 609.15,634.35 609.27,634.35 609.40,634.36 609.53,634.36 609.66,634.37 609.80,634.37 609.94,634.38 610.08,634.38 610.23,634.38 610.39,634.39 610.40,634.39 610.54,634.39 610.71,634.40 610.87,634.40 611.04,634.40 611.22,634.41 611.40,634.41 611.58,634.41 611.77,634.41 611.96,634.42 612.15,634.42 612.36,634.42 612.56,634.43 612.77,634.43 612.98,634.43 613.20,634.43 616.40,634.46 622.40,634.48 628.40,634.49 634.40,634.49 640.40,634.49 646.40,634.49 652.40,634.49 658.40,634.49 664.40,634.49 670.40,634.49 676.40,634.49 678.25,634.48 678.46,634.48 678.68,634.48 678.88,634.48 679.09,634.48 679.29,634.48 679.49,634.48 679.68,634.47 679.87,634.47 680.05,634.47 680.16,634.47 680.23,634.47 680.38,634.47 680.40,634.47 680.57,634.47 680.59,634.47 680.74,634.47 680.80,634.47 680.90,634.46 680.95,634.46 681.01,634.46 681.06,634.46 681.17,634.46 681.21,634.46 681.21,634.46 681.36,634.46 681.38,634.46 681.40,634.46 681.51,634.45 681.59,634.45 681.59,634.45 681.65,634.45 681.78,634.45 681.79,634.45 681.79,634.45 681.92,634.44 681.97,634.44 682.00,634.44 682.05,634.44 682.14,634.44 682.17,634.44 682.19,634.43 682.29,634.43 682.32,634.43 682.38,634.43 682.40,634.43 682.41,634.42 682.49,634.42 682.52,634.42 682.57,634.42 682.63,634.41 682.65,634.41 682.74,634.40 682.75,634.40 682.82,634.40 682.84,634.39 682.93,634.38 682.94,634.38 682.98,634.38 683.03,634.37 683.11,634.36 683.12,634.35 683.13,634.35 683.21,634.34 683.28,634.32 683.29,634.32 683.37,634.29 683.42,634.27 683.44,634.27 683.45,634.27 683.52,634.23 683.57,634.21 683.59,634.19 683.61,634.18 683.65,634.15 683.70,634.10 683.71,634.09 683.76,634.03 683.77,634.03 683.82,633.96 683.84,633.94 683.87,633.87 683.88,633.85 683.92,633.78 683.96,633.68 683.96,633.67 684.00,633.57 684.04,633.47 684.07,633.38 684.07,633.36 684.09,633.31 684.10,633.28 684.10,633.27 684.13,633.19 684.15,633.13 684.17,633.08 684.19,633.05 684.21,633.02 684.21,633.02 684.21,633.02 684.22,633.01 684.23,633.01 684.24,633.00 684.24,633.00 684.24,633.00 684.25,633.00 684.25,633.00 684.25,633.00 684.25,633.00 684.26,633.00 684.27,633.01 684.28,633.02 684.30,633.04 684.31,633.06 684.32,633.07 684.33,633.09 684.34,633.11 684.35,633.15 684.36,633.17 684.39,633.25 684.42,633.33 684.44,633.40 684.45,633.43 684.49,633.53 684.49,633.54 684.52,633.61 684.53,633.63 684.55,633.68 684.57,633.72 684.62,633.81 684.62,633.81 684.66,633.86 684.67,633.88 684.72,633.94 684.73,633.94 684.75,633.97 684.76,633.97 684.78,633.99 684.84,634.03 684.86,634.03 684.88,634.05 684.90,634.06 684.93,634.06 684.95,634.07 684.97,634.07 685.00,634.08 685.04,634.08 685.04,634.08 685.12,634.07 685.12,634.07 685.12,634.07 685.12,634.07 685.20,634.06 685.21,634.05 685.23,634.04 685.28,634.02 685.29,634.02 685.31,634.00 685.34,633.99 685.36,633.97 685.37,633.97 685.43,633.91 685.45,633.90 685.46,633.88 685.50,633.83 685.55,633.76 685.55,633.75 685.57,633.72 685.63,633.59 685.64,633.54 685.65,633.53 685.68,633.42 685.68,633.42 685.74,633.21 685.74,633.20 685.75,633.15 685.79,632.94 685.83,632.64 685.83,632.60 685.86,632.39 685.86,632.31 685.88,632.15 685.91,631.65 685.92,631.60 685.95,630.91 685.97,630.67 685.99,630.11 686.00,629.83 686.02,629.20 686.04,628.44 686.04,628.17 686.07,627.19 686.08,626.89 686.08,626.81 686.09,626.31 686.11,625.61 686.12,625.11 686.14,624.78 686.15,624.61 686.15,624.55 686.15,624.53 686.16,624.51 686.16,624.50 686.16,624.50 686.16,624.50 686.16,624.50 686.17,624.52 686.18,624.59 686.19,624.74 686.20,624.94 686.20,625.05 686.21,625.32 686.21,625.52 686.22,625.81 686.23,626.19 686.25,627.04 686.28,628.01 686.29,628.45 686.30,628.95 686.32,629.29 686.34,629.81 686.35,630.25 686.37,630.54 686.38,630.67 686.40,631.13 686.41,631.26 686.44,631.53 686.45,631.57 686.47,631.77 686.49,631.86 686.53,631.99 686.53,632.00 686.54,632.01 686.57,632.01 686.58,632.00 686.59,631.99 686.62,631.86 686.64,631.77 686.67,631.57 686.70,631.27 686.70,631.26 686.70,631.16 686.71,631.13 686.74,630.54 686.76,630.26 686.78,629.81 686.81,628.95 686.82,628.45 686.83,627.98 686.84,627.71 686.85,627.44 686.86,627.04 686.88,626.20 686.89,625.81 686.90,625.52 686.91,625.05 686.92,624.74 686.93,624.58 686.94,624.52 686.95,624.50 686.95,624.50 686.95,624.50 686.95,624.50 686.95,624.51 686.96,624.53 686.96,624.55 686.97,624.62 686.98,624.78 686.98,624.92 686.98,624.94 686.99,625.11 687.00,625.43 687.00,625.60 687.02,626.31 687.03,626.89 687.04,627.19 687.07,628.21 687.09,629.20 687.11,629.83 687.12,630.12 687.13,630.22 687.14,630.60 687.16,630.94 687.19,631.61 687.20,631.65 687.20,631.67 687.23,632.16 687.28,632.60 687.28,632.61 687.28,632.65 687.28,632.67 687.32,632.95 687.37,633.22 687.38,633.23 687.41,633.38 687.42,633.42 687.43,633.44 687.43,633.45 687.47,633.56 687.49,633.61 687.55,633.75 687.55,633.77 687.57,633.78 687.59,633.82 687.61,633.86 687.62,633.87 687.67,633.93 687.68,633.94 687.68,633.95 687.75,634.01 687.75,634.01 687.77,634.03 687.81,634.06 687.82,634.07 687.83,634.07 687.88,634.10 687.90,634.11 687.92,634.12 687.93,634.13 687.99,634.15 687.99,634.15 688.03,634.16 688.05,634.17 688.07,634.18 688.09,634.18 688.11,634.19 688.16,634.20 688.16,634.20 688.22,634.21 688.23,634.21 688.26,634.22 688.26,634.22 688.27,634.22 688.35,634.23 688.36,634.23 688.38,634.23 688.40,634.23 688.41,634.23 688.44,634.23 688.46,634.23 688.48,634.23 688.49,634.23 688.56,634.23 688.58,634.22 688.60,634.22 688.62,634.22 688.62,634.22 688.67,634.21 688.67,634.21 688.76,634.20 688.76,634.20 688.78,634.19 688.78,634.19 688.81,634.18 688.85,634.17 688.90,634.16 688.90,634.15 688.93,634.14 688.96,634.13 689.00,634.10 689.01,634.10 689.02,634.09 689.04,634.08 689.08,634.05 689.14,634.00 689.15,633.99 689.15,633.98 689.19,633.94 689.20,633.93 689.22,633.90 689.28,633.81 689.28,633.79 689.31,633.75 689.35,633.66 689.35,633.66 689.40,633.50 689.40,633.49 689.41,633.46 689.46,633.27 689.47,633.18 689.50,632.99 689.51,632.98 689.55,632.68 689.55,632.62 689.60,632.15 689.61,632.05 689.64,631.58 689.64,631.56 689.67,630.99 689.67,630.86 689.69,630.50 689.71,629.98 689.74,628.99 689.76,627.94 689.79,626.89 689.79,626.62 689.81,625.90 689.81,625.73 689.83,625.15 689.83,624.96 689.84,624.62 689.86,624.30 689.87,624.11 689.87,624.03 689.88,624.01 689.88,624.00 689.88,624.00 689.88,624.00 689.88,624.00 689.89,624.03 689.90,624.11 689.91,624.29 689.92,624.64 689.93,625.17 689.95,625.75 689.95,625.92 689.97,626.86 689.98,627.31 690.00,627.92 690.00,628.21 690.02,628.98 690.03,629.09 690.05,630.00 690.09,630.85 690.10,631.07 690.12,631.58 690.14,631.76 690.16,632.17 690.18,632.33 690.21,632.63 690.24,632.92 690.25,632.93 690.25,633.00 690.29,633.23 690.30,633.28 690.36,633.50 690.36,633.51 690.38,633.59 690.42,633.68 690.46,633.78 690.48,633.82 690.52,633.90 690.54,633.93 690.61,634.02 690.62,634.04 690.65,634.07 690.68,634.09 690.73,634.13 690.75,634.15 690.78,634.17 690.79,634.17 690.83,634.19 690.91,634.23 690.92,634.23 690.92,634.23 690.97,634.25 691.00,634.26 691.03,634.27 691.09,634.29 691.12,634.29 691.15,634.30 691.15,634.30 691.19,634.31 691.26,634.32 691.28,634.33 691.32,634.33 691.33,634.33 691.37,634.34 691.39,634.34 691.48,634.35 691.49,634.35 691.52,634.35 691.52,634.35 691.58,634.36 691.60,634.36 691.67,634.36 691.71,634.36 691.71,634.36 691.73,634.36 691.77,634.36 691.83,634.36 691.86,634.36 691.90,634.36 691.94,634.36 691.95,634.36 691.95,634.36 692.03,634.36 692.08,634.35 692.11,634.35 692.11,634.35 692.16,634.34 692.18,634.34 692.21,634.34 692.25,634.33 692.31,634.31 692.32,634.31 692.34,634.30 692.38,634.29 692.45,634.26 692.48,634.24 692.50,634.22 692.52,634.20 692.56,634.17 692.61,634.10 692.62,634.08 692.65,634.02 692.70,633.91 692.73,633.79 692.74,633.77 692.76,633.65 692.77,633.60 692.81,633.40 692.84,633.17 692.86,632.92 692.89,632.67 692.91,632.45 692.91,632.41 692.93,632.28 692.94,632.14 692.95,632.10 692.96,632.07 692.97,632.03 692.97,632.01 692.98,632.00 692.98,632.00 692.98,632.00 692.98,632.00 692.99,632.01 693.00,632.03 693.01,632.07 693.02,632.14 693.03,632.28 693.05,632.45 693.07,632.61 693.07,632.67 693.10,632.92 693.12,633.17 693.15,633.41 693.19,633.61 693.23,633.78 693.26,633.92 693.31,634.03 693.36,634.11 693.39,634.16 693.40,634.18 693.46,634.23 693.52,634.28 693.55,634.30 693.58,634.31 693.64,634.34 693.71,634.36 693.72,634.36 693.78,634.37 693.86,634.39 693.90,634.39 693.93,634.40 694.02,634.41 694.08,634.41 694.10,634.42 694.19,634.42 694.26,634.43 694.29,634.43 694.38,634.43 694.40,634.43 694.45,634.44 694.49,634.44 694.59,634.44 694.64,634.44 694.70,634.44 694.81,634.45 694.84,634.45 694.93,634.45 695.04,634.45 695.05,634.45 695.18,634.45 695.24,634.45 695.31,634.45 695.44,634.46 695.45,634.46 695.58,634.46 695.66,634.46 695.72,634.46 695.86,634.46 695.88,634.46 696.01,634.46 696.17,634.46 696.33,634.46 696.49,634.46 696.65,634.46 696.82,634.46 697.00,634.46 697.18,634.46 697.36,634.46 697.55,634.46 697.74,634.46 697.93,634.46 698.14,634.46 698.34,634.46 698.55,634.46 698.76,634.46 698.98,634.46 700.40,634.45 705.80,634.37 706.02,634.36 706.24,634.35 706.40,634.34 706.45,634.34 706.54,634.33 706.65,634.33 706.75,634.32 706.85,634.32 706.97,634.31 707.05,634.30 707.18,634.29 707.24,634.29 707.27,634.29 707.38,634.28 707.42,634.27 707.49,634.27 707.58,634.26 707.61,634.26 707.70,634.25 707.78,634.24 707.79,634.24 707.91,634.22 707.96,634.22 707.97,634.21 708.12,634.19 708.13,634.19 708.16,634.19 708.30,634.17 708.32,634.16 708.34,634.16 708.46,634.14 708.51,634.13 708.52,634.13 708.62,634.11 708.70,634.09 708.70,634.09 708.77,634.07 708.87,634.05 708.89,634.04 708.92,634.04 709.03,634.01 709.07,633.99 709.07,633.99 709.19,633.95 709.21,633.95 709.25,633.93 709.35,633.90 709.35,633.89 709.43,633.86 709.48,633.84 709.50,633.82 709.60,633.78 709.61,633.77 709.65,633.75 709.73,633.70 709.76,633.68 709.80,633.65 709.86,633.61 709.93,633.56 709.94,633.55 709.97,633.52 710.08,633.42 710.08,633.42 710.09,633.42 710.19,633.30 710.21,633.27 710.24,633.24 710.30,633.16 710.34,633.10 710.39,633.02 710.40,633.00 710.47,632.88 710.50,632.82 710.53,632.75 710.59,632.62 710.59,632.61 710.67,632.39 710.68,632.36 710.70,632.30 710.77,632.08 710.81,631.92 710.82,631.89 710.85,631.74 710.93,631.36 710.93,631.34 710.94,631.26 711.01,630.86 711.03,630.67 711.07,630.32 711.08,630.29 711.13,629.72 711.14,629.59 711.20,628.89 711.21,628.74 711.23,628.37 711.27,627.67 711.32,626.53 711.33,626.37 711.33,626.34 711.38,624.67 711.42,623.19 711.43,622.46 711.44,622.14 711.48,619.67 711.50,617.70 711.52,615.90 711.55,612.51 711.56,610.97 711.58,607.15 711.60,604.57 711.63,595.84 711.66,585.24 711.66,584.80 711.66,583.92 711.69,571.01 711.71,554.81 711.73,536.59 711.74,533.00 711.75,520.19 711.76,508.68 711.77,507.01 711.78,498.11 711.79,492.65 711.80,489.97 711.80,489.26 711.80,489.02 711.80,489.00 711.81,489.00 711.81,489.09 711.81,489.29 711.81,489.80 711.82,491.91 711.83,496.92 711.84,506.14 711.86,518.90 711.87,526.88 711.88,534.73 711.88,536.43 711.90,551.49 711.92,567.01 711.94,577.45 711.95,579.96 711.96,585.78 711.98,590.22 712.00,595.49 712.01,597.31 712.05,602.09 712.06,602.87 712.06,602.95 712.09,604.67 712.11,605.23 712.13,605.22 712.15,604.91 712.16,604.37 712.18,603.53 712.21,601.04 712.23,598.87 712.24,598.08 712.25,595.32 712.28,589.26 712.29,586.75 712.32,579.42 712.33,574.55 712.34,570.27 712.36,557.71 712.39,536.01 712.40,534.26 712.40,530.65 712.40,529.72 712.42,508.59 712.45,476.19 712.47,443.20 712.47,441.43 712.47,432.46 712.48,408.63 712.50,380.49 712.51,362.84 712.52,352.17 712.53,347.54 712.53,346.08 712.53,345.85 712.54,345.51 712.54,345.51 712.54,345.84 712.54,346.07 712.55,347.52 712.55,352.14 712.56,362.79 712.58,380.43 712.59,408.56 712.60,432.39 712.61,441.36 712.61,443.13 712.63,476.13 712.65,508.54 712.67,529.68 712.68,534.23 712.68,535.97 712.71,557.68 712.74,570.25 712.75,574.53 712.76,579.41 712.78,586.73 712.79,589.25 712.82,595.31 712.84,598.21 712.85,598.87 712.87,601.03 712.90,603.53 712.91,604.37 712.93,604.91 712.94,605.22 712.96,605.23 712.99,604.67 713.02,602.95 713.02,602.87 713.03,602.09 713.06,597.31 713.07,595.50 713.10,590.23 713.11,585.79 713.13,579.98 713.13,577.47 713.15,567.03 713.18,551.52 713.20,535.62 713.20,534.76 713.21,526.91 713.22,518.93 713.23,506.17 713.25,496.95 713.25,491.92 713.26,489.81 713.26,489.30 713.27,489.10 713.27,489.00 713.27,489.00 713.27,489.02 713.27,489.26 713.28,489.96 713.29,492.63 713.30,498.08 713.31,506.98 713.31,508.64 713.32,520.15 713.34,532.96 713.34,536.55 713.36,554.78 713.39,570.99 713.41,583.91 713.41,584.79 713.41,585.22 713.44,595.83 713.48,604.56 713.49,607.15 713.51,610.96 713.52,612.50 713.55,615.89 713.57,617.69 713.60,619.67 713.64,622.14 713.64,622.45 713.66,623.18 713.70,624.67 713.75,626.34 713.75,626.37 713.75,626.53 713.80,627.67 713.84,628.37 713.87,628.74 713.88,628.89 713.93,629.59 713.94,629.72 714.00,630.29 714.00,630.32 714.04,630.67 714.07,630.86 714.13,631.26 714.14,631.34 714.15,631.36 714.22,631.74 714.26,631.89 714.26,631.91 714.31,632.08 714.37,632.30 714.39,632.36 714.40,632.39 714.48,632.61 714.49,632.62 714.54,632.74 714.58,632.82 714.61,632.88 714.67,633.00 714.69,633.02 714.73,633.09 714.77,633.16 714.84,633.24 714.86,633.27 714.88,633.29 714.99,633.41 714.99,633.41 715.00,633.42 715.10,633.52 715.13,633.55 715.15,633.56 715.22,633.61 715.27,633.65 715.31,633.68 715.34,633.70 715.42,633.74 715.47,633.77 715.48,633.77 715.57,633.82 715.60,633.83 715.65,633.86 715.72,633.89 715.73,633.89 715.82,633.93 715.87,633.94 715.88,633.95 716.00,633.99 716.01,633.99 716.04,634.00 716.15,634.03 716.18,634.04 716.21,634.05 716.30,634.07 716.37,634.09 716.38,634.09 716.46,634.10 716.55,634.12 716.56,634.13 716.61,634.14 716.73,634.16 716.76,634.16 716.78,634.16 716.92,634.18 716.94,634.19 716.96,634.19 717.10,634.21 717.11,634.21 717.16,634.22 717.29,634.23 717.30,634.23 717.37,634.24 717.47,634.25 717.49,634.25 717.59,634.26 717.65,634.27 717.69,634.27 717.80,634.28 717.84,634.28 717.90,634.29 718.03,634.30 718.11,634.30 718.23,634.31 718.32,634.32 718.40,634.32 718.42,634.32 718.54,634.33 718.63,634.33 718.84,634.34 719.05,634.35 719.27,634.36 720.63,634.39 720.85,634.40 721.06,634.40 721.27,634.40 721.47,634.40 721.67,634.41 721.87,634.41 722.06,634.41 722.25,634.41 722.43,634.41 722.61,634.41 722.78,634.40 722.96,634.40 723.12,634.40 723.28,634.40 723.44,634.39 723.60,634.39 723.74,634.38 723.89,634.38 724.03,634.37 724.17,634.36 724.30,634.35 724.40,634.34 724.43,634.34 724.56,634.32 724.68,634.31 724.79,634.29 724.91,634.26 725.02,634.24 725.12,634.21 725.22,634.17 725.32,634.12 725.42,634.07 725.51,634.00 725.59,633.93 725.67,633.83 725.75,633.71 725.83,633.57 725.90,633.38 725.97,633.16 726.03,632.87 726.09,632.50 726.15,632.03 726.20,631.40 726.25,630.59 726.30,629.50 726.34,628.06 726.38,626.12 726.42,623.49 726.45,619.94 726.48,615.42 726.51,609.75 726.53,603.07 726.56,595.92 726.57,589.17 726.59,583.39 726.60,579.76 726.61,577.57 726.62,576.62 726.62,576.27 726.63,576.20 726.63,576.20 726.63,576.27 726.64,576.62 726.64,577.56 726.65,579.75 726.66,583.38 726.68,589.16 726.70,595.90 726.72,603.06 726.74,609.74 726.77,615.42 726.80,619.94 726.84,623.49 726.87,626.12 726.91,628.06 726.96,629.50 727.00,630.59 727.05,631.41 727.11,632.03 727.16,632.51 727.22,632.87 727.29,633.17 727.36,633.39 727.43,633.57 727.50,633.72 727.58,633.84 727.66,633.93 727.75,634.01 727.84,634.08 727.93,634.13 728.03,634.18 728.13,634.22 728.24,634.25 728.35,634.28 728.46,634.30 728.58,634.32 728.70,634.34 728.82,634.35 728.95,634.37 729.09,634.38 729.22,634.39 729.37,634.40 729.51,634.41 729.66,634.41 729.81,634.42 729.97,634.43 730.13,634.43 730.30,634.44 730.40,634.44 730.47,634.44 730.64,634.44 730.82,634.45 731.01,634.45 731.19,634.45 731.39,634.45 731.58,634.46 731.78,634.46 731.99,634.46 732.20,634.46 732.41,634.46 732.63,634.47 736.40,634.48 738.55,634.47 738.77,634.47 738.98,634.47 739.19,634.47 739.39,634.47 739.60,634.47 739.79,634.47 739.98,634.46 740.17,634.46 740.35,634.46 740.53,634.46 740.71,634.46 740.88,634.45 741.04,634.45 741.21,634.45 741.36,634.44 741.52,634.44 741.67,634.43 741.81,634.43 741.95,634.42 742.09,634.41 742.22,634.41 742.35,634.40 742.40,634.39 742.48,634.39 742.60,634.38 742.72,634.36 742.83,634.35 742.94,634.33 743.04,634.32 743.15,634.30 743.24,634.27 743.34,634.25 743.43,634.22 743.51,634.20 743.60,634.16 743.68,634.13 743.75,634.09 743.82,634.06 743.89,634.02 743.95,633.98 744.01,633.94 744.07,633.91 744.13,633.87 744.18,633.84 744.22,633.81 744.27,633.79 744.31,633.77 744.34,633.75 744.38,633.74 744.41,633.72 744.43,633.72 744.46,633.71 744.48,633.71 744.50,633.70 744.51,633.70 744.52,633.70 744.53,633.70 744.54,633.70 744.55,633.70 744.55,633.70 744.55,633.70 744.55,633.70 744.55,633.70 744.56,633.70 744.57,633.70 744.58,633.70 744.59,633.70 744.60,633.70 744.62,633.71 744.64,633.71 744.67,633.72 744.69,633.72 744.72,633.74 744.76,633.75 744.79,633.77 744.83,633.79 744.88,633.81 744.92,633.84 744.97,633.87 745.03,633.91 745.09,633.94 745.15,633.98 745.21,634.02 745.28,634.06 745.35,634.10 745.42,634.13 745.50,634.16 745.59,634.20 745.67,634.23 745.76,634.25 745.86,634.28 745.95,634.30 746.05,634.32 746.16,634.34 746.27,634.35 746.38,634.37 746.50,634.38 746.62,634.39 746.75,634.40 746.88,634.41 747.01,634.42 747.15,634.42 747.29,634.43 747.43,634.44 747.58,634.44 747.74,634.45 747.89,634.45 748.06,634.45 748.22,634.46 748.39,634.46 748.40,634.46 748.57,634.46 748.75,634.47 748.93,634.47 749.12,634.47 749.31,634.47 749.50,634.47 749.71,634.48 749.91,634.48 750.12,634.48 750.33,634.48 750.55,634.48 754.40,634.49 760.40,634.49 766.40,634.50 772.40,634.50 778.40,634.50 784.40,634.50 790.40,634.50 796.40,634.50 802.40,634.50 807.53,634.49 807.75,634.49 807.97,634.48 808.17,634.48 808.38,634.48 808.40,634.48 808.58,634.48 808.78,634.48 808.97,634.48 809.15,634.48 809.34,634.47 809.52,634.47 809.69,634.47 809.86,634.47 810.03,634.46 810.19,634.46 810.35,634.46 810.50,634.45 810.65,634.45 810.80,634.44 810.94,634.44 811.08,634.43 811.21,634.42 811.34,634.41 811.46,634.40 811.58,634.39 811.70,634.37 811.82,634.35 811.92,634.33 812.03,634.31 812.13,634.28 812.23,634.25 812.32,634.21 812.41,634.16 812.50,634.10 812.58,634.03 812.66,633.95 812.74,633.84 812.81,633.70 812.88,633.53 812.94,633.32 813.00,633.05 813.06,632.69 813.11,632.23 813.16,631.62 813.21,630.79 813.25,629.70 813.29,628.20 813.33,626.15 813.36,623.32 813.39,619.61 813.42,614.79 813.44,608.86 813.46,602.18 813.48,595.54 813.50,589.56 813.51,585.66 813.52,583.25 813.53,582.18 813.53,581.79 813.53,581.70 813.53,581.70 813.54,581.77 813.54,582.15 813.55,583.19 813.56,585.58 813.57,589.46 813.59,595.43 813.61,602.08 813.63,608.78 813.65,614.74 813.68,619.57 813.71,623.39 813.74,626.13 813.78,628.19 813.82,629.69 813.86,630.79 813.91,631.61 813.96,632.23 814.01,632.69 814.07,633.05 814.13,633.32 814.20,633.54 814.26,633.70 814.33,633.84 814.40,633.93 814.41,633.95 814.49,634.03 814.57,634.10 814.66,634.16 814.75,634.21 814.84,634.25 814.94,634.28 815.04,634.31 815.14,634.33 815.25,634.35 815.37,634.37 815.49,634.39 815.61,634.40 815.73,634.41 815.86,634.42 815.99,634.43 816.13,634.44 816.27,634.44 816.42,634.45 816.57,634.45 816.72,634.46 816.88,634.46 817.04,634.46 817.21,634.47 817.38,634.47 817.55,634.47 817.73,634.47 817.91,634.48 818.10,634.48 818.29,634.48 818.49,634.48 818.69,634.48 818.89,634.48 819.10,634.49 819.32,634.49 819.53,634.49 820.40,634.49 826.40,634.50 832.40,634.50 838.40,634.50 844.40,634.50 850.40,634.50 856.40,634.50 862.40,634.50 868.40,634.50 871.50,634.50"/>
<path d="M82.40 664.25H871.50M82.32 664.25v8.8M87.96 664.25v3.0M93.59 664.25v3.0M99.23 664.25v3.0M104.86 664.25v3.0M110.50 664.25v3.0M116.14 664.25v3.0M121.77 664.25v3.0M127.41 664.25v3.0M133.04 664.25v3.0M138.68 664.25v8.8M144.32 664.25v3.0M149.95 664.25v3.0M155.59 664.25v3.0M161.22 664.25v3.0M166.86 664.25v3.0M172.50 664.25v3.0M178.13 664.25v3.0M183.77 664.25v3.0M189.40 664.25v3.0M195.04 664.25v8.8M200.68 664.25v3.0M206.31 664.25v3.0M211.95 664.25v3.0M217.58 664.25v3.0M223.22 664.25v3.0M228.86 664.25v3.0M234.49 664.25v3.0M240.13 664.25v3.0M245.76 664.25v3.0M251.40 664.25v8.8M257.04 664.25v3.0M262.67 664.25v3.0M268.31 664.25v3.0M273.94 664.25v3.0M279.58 664.25v3.0M285.22 664.25v3.0M290.85 664.25v3.0M296.49 664.25v3.0M302.12 664.25v3.0M307.76 664.25v8.8M313.40 664.25v3.0M319.03 664.25v3.0M324.67 664.25v3.0M330.30 664.25v3.0M335.94 664.25v3.0M341.58 664.25v3.0M347.21 664.25v3.0M352.85 664.25v3.0M358.48 664.25v3.0M364.12 664.25v8.8M369.76 664.25v3.0M375.39 664.25v3.0M381.03 664.25v3.0M386.66 664.25v3.0M392.30 664.25v3.0M397.94 664.25v3.0M403.57 664.25v3.0M409.21 664.25v3.0M414.84 664.25v3.0M420.48 664.25v8.8M426.12 664.25v3.0M431.75 664.25v3.0M437.39 664.25v3.0M443.02 664.25v3.0M448.66 664.25v3.0M454.30 664.25v3.0M459.93 664.25v3.0M465.57 664.25v3.0M471.20 664.25v3.0M476.84 664.25v8.8M482.48 664.25v3.0M488.11 664.25v3.0M493.75 664.25v3.0M499.38 664.25v3.0M505.02 664.25v3.0M510.66 664.25v3.0M516.29 664.25v3.0M521.93 664.25v3.0M527.56 664.25v3.0M533.20 664.25v8.8M538.84 664.25v3.0M544.47 664.25v3.0M550.11 664.25v3.0M555.74 664.25v3.0M561.38 664.25v3.0M567.02 664.25v3.0M572.65 664.25v3.0M578.29 664.25v3.0M583.92 664.25v3.0M589.56 664.25v8.8M595.20 664.25v3.0M600.83 664.25v3.0M606.47 664.25v3.0M612.10 664.25v3.0M617.74 664.25v3.0M623.38 664.25v3.0M629.01 664.25v3.0M634.65 664.25v3.0M640.28 664.25v3.0M645.92 664.25v8.8M651.56 664.25v3.0M657.19 664.25v3.0M662.83 664.25v3.0M668.46 664.25v3.0M674.10 664.25v3.0M679.74 664.25v3.0M685.37 664.25v3.0M691.01 664.25v3.0M696.64 664.25v3.0M702.28 664.25v8.8M707.92 664.25v3.0M713.55 664.25v3.0M719.19 664.25v3.0M724.82 664.25v3.0M730.46 664.25v3.0M736.10 664.25v3.0M741.73 664.25v3.0M747.37 664.25v3.0M753.00 664.25v3.0M758.64 664.25v8.8M764.28 664.25v3.0M769.91 664.25v3.0M775.55 664.25v3.0M781.18 664.25v3.0M786.82 664.25v3.0M792.46 664.25v3.0M798.09 664.25v3.0M803.73 664.25v3.0M809.36 664.25v3.0M815.00 664.25v8.8M820.64 664.25v3.0M826.27 664.25v3.0M831.91 664.25v3.0M837.54 664.25v3.0M843.18 664.25v3.0M848.82 664.25v3.0M854.45 664.25v3.0M860.09 664.25v3.0M865.72 664.25v3.0M871.36 664.25v8.8" stroke="#2424b4" stroke-width="1" fill="none"/>
<g class="sans" font-family="Liberation Sans, sans-serif" font-weight="bold" font-size="16" fill="#0000c8" text-anchor="middle">
<text x="815.00" y="691.2">0</text><text x="758.64" y="691.2">1</text><text x="702.28" y="691.2">2</text><text x="645.92" y="691.2">3</text><text x="589.56" y="691.2">4</text><text x="533.20" y="691.2">5</text><text x="476.84" y="691.2">6</text><text x="420.48" y="691.2">7</text><text x="364.12" y="691.2">8</text><text x="307.76" y="691.2">9</text><text x="251.40" y="691.2">10</text><text x="195.04" y="691.2">11</text><text x="138.68" y="691.2">12</text><text x="871" y="691.2" text-anchor="end" font-size="16.4">ppm</text>
</g>
<g font-family="Liberation Mono, monospace" font-size="16.75" fill="#b83232" stroke="#fff" stroke-width="0.3">
<text transform="translate(363.80 145.2) rotate(-90)">7.609</text><text transform="translate(381.80 145.2) rotate(-90)">7.596</text><text transform="translate(399.80 145.2) rotate(-90)">7.474</text><text transform="translate(417.80 145.2) rotate(-90)">7.461</text><text transform="translate(435.80 145.2) rotate(-90)">7.282</text><text transform="translate(598.00 145.2) rotate(-90)">3.811</text><text transform="translate(616.00 145.2) rotate(-90)">3.798</text><text transform="translate(656.40 145.2) rotate(-90)">2.286</text><text transform="translate(674.40 145.2) rotate(-90)">2.272</text><text transform="translate(692.40 145.2) rotate(-90)">2.220</text><text transform="translate(710.40 145.2) rotate(-90)">1.831</text><text transform="translate(728.40 145.2) rotate(-90)">1.818</text><text transform="translate(746.40 145.2) rotate(-90)">1.805</text><text transform="translate(764.40 145.2) rotate(-90)">1.568</text><text transform="translate(820.00 145.2) rotate(-90)">0.026</text>
</g>
<path d="M357.30 147.8V151.8L386.16 168.6V172.8M375.30 147.8V151.8L386.89 168.6V172.8M393.30 147.8V151.8L393.77 168.6V172.8M411.30 147.8V151.8L394.50 168.6V172.8M429.30 147.8V151.8L404.59 168.6V172.8M591.50 147.8V151.8L600.21 168.6V172.8M609.50 147.8V151.8L600.94 168.6V172.8M649.90 147.8V151.8L686.16 168.6V172.8M667.90 147.8V151.8L686.95 168.6V172.8M685.90 147.8V151.8L689.88 168.6V172.8M703.90 147.8V151.8L711.80 168.6V172.8M721.90 147.8V151.8L712.54 168.6V172.8M739.90 147.8V151.8L713.27 168.6V172.8M757.90 147.8V151.8L726.63 168.6V172.8M813.50 147.8V151.8L813.53 168.6V172.8" stroke="#b83232" stroke-width="1" fill="none"/>
<path d="M382.00 700.40V708.30L372.05 718.00V753.20M388.9 700.40V753.20M394.90 700.40V708.30L405.60 718.00V753.20M596.80 700.40V708.30L592.40 718.00V753.20M605.10 700.40V708.30L609.40 718.00V753.20M682.90 700.40V708.30L678.60 718.00V753.20M691.60 700.40V708.30L695.90 718.00V753.20M708.40 700.40V708.30L703.20 718.00V753.20M715.50 700.40V708.30L720.60 718.00V753.20" stroke="#c8465a" stroke-width="0.9" fill="none"/>
<g font-family="Liberation Sans, sans-serif" font-weight="bold" font-size="13.8" fill="#d8143c">
<text transform="translate(386.50 753.1) rotate(-90)">2.049</text><text transform="translate(403.40 753.1) rotate(-90)">2.000</text><text transform="translate(606.50 753.1) rotate(-90)">2.083</text><text transform="translate(692.80 753.1) rotate(-90)">0.085</text><text transform="translate(717.70 753.1) rotate(-90)">0.987</text>
</g>
<g fill="#2d47b0" fill-rule="evenodd"><path transform="translate(1010.4 130.0) rotate(33)" d="M-68.60 0.00a67.20 23.40 0 1 0 134.40 0a67.20 23.40 0 1 0 -134.40 0zM-65.10 -0.75a63.25 19.85 0 1 0 126.50 0a63.25 19.85 0 1 0 -126.50 0z"/><path transform="translate(1010.4 130.0) scale(1 -1) rotate(33)" d="M-68.60 0.00a67.20 23.40 0 1 0 134.40 0a67.20 23.40 0 1 0 -134.40 0zM-65.10 -0.75a63.25 19.85 0 1 0 126.50 0a63.25 19.85 0 1 0 -126.50 0z"/><circle cx="981.4" cy="91.4" r="4.7"/><circle cx="981.4" cy="168.6" r="4.7"/></g>
<rect x="924" y="118.7" width="167" height="22.3" fill="#fff"/><path transform="translate(0 120.1) scale(1 1.043) translate(0 -120.4)" fill="#0a0a0a" fill-rule="evenodd" d="M926.2 120.4H944Q949.2 120.4 949.2 124.9Q949.2 128.2 946.8 129.4Q950.2 130.6 950.2 134.4Q950.2 139 944.6 139H926.2zM934.1 126.2H941.4V128H934.1zM934.1 132.7H942V134.7H934.1zM954.90 120.4H972.60Q978.40 120.4 978.40 125.4Q978.40 130 974.40 130.9L979.00 139H970.40L966.60 132.4H963.00V139H954.90zM962.60 126.1H970.00V128H962.60zM983.3 120.4H991.2V131.2Q991.2 133.7 993.8 133.7Q996.6 133.7 996.6 131.2V120.4H1004.3V132Q1004.3 139.3 993.8 139.3Q983.3 139.3 983.3 132zM1009.9 120.4H1017.9V127.2L1024.7 120.4H1033.8L1024.6 129L1034.5 139H1025.2L1019.7 132.9L1017.9 134.5V139H1009.9zM1039.1 120.4H1061V125.5H1047.4V127.6H1058V132.4H1047.4V134.3H1061V139H1039.1zM1066.10 120.4H1083.80Q1089.60 120.4 1089.60 125.4Q1089.60 130 1085.60 130.9L1090.20 139H1081.60L1077.80 132.4H1074.20V139H1066.10zM1073.80 126.1H1081.20V128H1073.80z"/>
<g fill="#fff"><ellipse cx="77.63" cy="67.63" rx="1.59" ry="1.47"/><ellipse cx="1008.59" cy="230.83" rx="1.17" ry="1.07"/><ellipse cx="1052.94" cy="292.58" rx="1.17" ry="1.07"/><ellipse cx="1075.11" cy="292.58" rx="1.17" ry="1.07"/><ellipse cx="1038.15" cy="329.63" rx="1.17" ry="1.07"/><ellipse cx="1060.33" cy="329.63" rx="1.17" ry="1.07"/><ellipse cx="1097.29" cy="341.98" rx="1.17" ry="1.07"/><ellipse cx="1097.29" cy="391.38" rx="1.17" ry="1.07"/><ellipse cx="1060.33" cy="403.73" rx="1.17" ry="1.07"/><ellipse cx="1045.55" cy="416.08" rx="1.17" ry="1.07"/><ellipse cx="1089.90" cy="416.08" rx="1.17" ry="1.07"/><ellipse cx="1097.29" cy="428.43" rx="1.17" ry="1.07"/><ellipse cx="1089.90" cy="440.78" rx="1.17" ry="1.07"/><ellipse cx="1082.51" cy="453.13" rx="1.17" ry="1.07"/><ellipse cx="1089.90" cy="453.13" rx="1.17" ry="1.07"/><ellipse cx="1097.29" cy="453.13" rx="1.17" ry="1.07"/><ellipse cx="1045.55" cy="490.18" rx="1.17" ry="1.07"/><ellipse cx="1052.94" cy="490.18" rx="1.17" ry="1.07"/><ellipse cx="1060.33" cy="490.18" rx="1.17" ry="1.07"/><ellipse cx="1067.72" cy="490.18" rx="1.17" ry="1.07"/><ellipse cx="1075.11" cy="490.18" rx="1.17" ry="1.07"/><ellipse cx="1082.51" cy="490.18" rx="1.17" ry="1.07"/><ellipse cx="1089.90" cy="490.18" rx="1.17" ry="1.07"/><ellipse cx="1097.29" cy="490.18" rx="1.17" ry="1.07"/><ellipse cx="949.45" cy="502.53" rx="1.17" ry="1.07"/><ellipse cx="1030.76" cy="514.88" rx="1.17" ry="1.07"/><ellipse cx="1038.15" cy="514.88" rx="1.17" ry="1.07"/><ellipse cx="1082.51" cy="514.88" rx="1.17" ry="1.07"/><ellipse cx="942.06" cy="539.58" rx="1.17" ry="1.07"/><ellipse cx="1075.11" cy="551.93" rx="1.17" ry="1.07"/><ellipse cx="1089.90" cy="551.93" rx="1.17" ry="1.07"/><ellipse cx="1097.29" cy="551.93" rx="1.17" ry="1.07"/><ellipse cx="1030.76" cy="613.68" rx="1.17" ry="1.07"/><ellipse cx="1038.15" cy="613.68" rx="1.17" ry="1.07"/><ellipse cx="1067.72" cy="613.68" rx="1.17" ry="1.07"/><ellipse cx="1075.11" cy="613.68" rx="1.17" ry="1.07"/><ellipse cx="1082.51" cy="613.68" rx="1.17" ry="1.07"/><ellipse cx="1097.29" cy="638.38" rx="1.17" ry="1.07"/><ellipse cx="1075.11" cy="650.73" rx="1.17" ry="1.07"/><ellipse cx="1097.29" cy="650.73" rx="1.17" ry="1.07"/><ellipse cx="1097.29" cy="663.08" rx="1.17" ry="1.07"/><ellipse cx="1089.90" cy="675.43" rx="1.17" ry="1.07"/><ellipse cx="1097.29" cy="675.43" rx="1.17" ry="1.07"/><ellipse cx="358.15" cy="110.07" rx="1.68" ry="1.59"/><ellipse cx="686.75" cy="100.02" rx="1.68" ry="1.59"/><ellipse cx="740.75" cy="110.07" rx="1.68" ry="1.59"/><ellipse cx="814.35" cy="140.22" rx="1.68" ry="1.59"/><ellipse cx="814.35" cy="120.12" rx="1.68" ry="1.59"/></g>
</svg>
</body></html>
